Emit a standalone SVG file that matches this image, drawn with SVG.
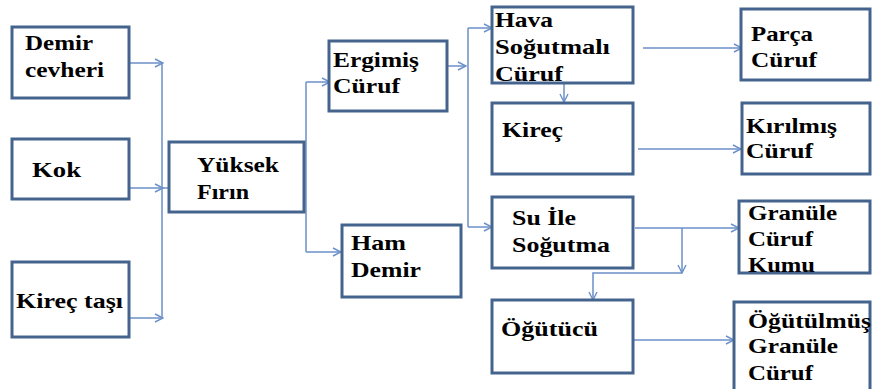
<svg xmlns="http://www.w3.org/2000/svg" width="872" height="389" viewBox="0 0 872 389">
<defs>
<marker id="arr" markerWidth="10" markerHeight="10" refX="9" refY="5" orient="auto" markerUnits="userSpaceOnUse">
<path d="M1,1 L9,5 L1,9" fill="none" stroke="#6b90c8" stroke-width="1.4"/>
</marker>
</defs>
<style>
.box{fill:#ffffff;stroke:#44648e;stroke-width:3}
.t{font-family:'Liberation Serif','Times New Roman',serif;font-weight:bold;font-size:22px;fill:#000000}
.c{fill:none;stroke:#6b90c8;stroke-width:1.5}
</style>
<rect width="872" height="389" fill="#ffffff"/>
<g id="connectors">
<path class="c" d="M129,63 H163" marker-end="url(#arr)"/>
<path class="c" d="M129,188 H163" marker-end="url(#arr)"/>
<path class="c" d="M162,188 H187" marker-end="url(#arr)"/>
<path class="c" d="M129,318 H163" marker-end="url(#arr)"/>
<path class="c" d="M162,63 V318"/>
<path class="c" d="M306,82 V252"/>
<path class="c" d="M306,82 H330" marker-end="url(#arr)"/>
<path class="c" d="M306,252 H341" marker-end="url(#arr)"/>
<path class="c" d="M435,66 H466" marker-end="url(#arr)"/>
<path class="c" d="M468,28 V227"/>
<path class="c" d="M468,28 H492" marker-end="url(#arr)"/>
<path class="c" d="M468,227 H492" marker-end="url(#arr)"/>
<path class="c" d="M564,78 V102" marker-end="url(#arr)"/>
<path class="c" d="M643,48 H742" marker-end="url(#arr)"/>
<path class="c" d="M638,149 H741" marker-end="url(#arr)"/>
<path class="c" d="M635,228 H739" marker-end="url(#arr)"/>
<path class="c" d="M682,228 V273" marker-end="url(#arr)"/>
<path class="c" d="M682,273 H593 V300" marker-end="url(#arr)"/>
<path class="c" d="M630,340 H734" marker-end="url(#arr)"/>
</g>
<g id="demir-cevheri">
<rect class="box" x="12" y="27" width="117" height="71"/>
<text class="t"><tspan x="25" y="50" textLength="68" lengthAdjust="spacingAndGlyphs">Demir</tspan><tspan x="25" y="77" textLength="79" lengthAdjust="spacingAndGlyphs">cevheri</tspan></text>
</g>
<g id="kok">
<rect class="box" x="12" y="139" width="117" height="60"/>
<text class="t" x="32" y="177" textLength="49" lengthAdjust="spacingAndGlyphs">Kok</text>
</g>
<g id="kirec-tasi">
<rect class="box" x="12" y="262" width="117" height="75"/>
<text class="t" x="16" y="308" textLength="107" lengthAdjust="spacingAndGlyphs">Kireç taşı</text>
</g>
<g id="yuksek-firin">
<rect class="box" x="169" y="142" width="135" height="70"/>
<text class="t"><tspan x="197" y="172" textLength="82" lengthAdjust="spacingAndGlyphs">Yüksek</tspan><tspan x="197" y="199" textLength="52" lengthAdjust="spacingAndGlyphs">Fırın</tspan></text>
</g>
<g id="ergimis-curuf">
<rect class="box" x="329" y="41" width="118" height="70"/>
<text class="t"><tspan x="333" y="67" textLength="86" lengthAdjust="spacingAndGlyphs">Ergimiş</tspan><tspan x="333" y="93" textLength="67" lengthAdjust="spacingAndGlyphs">Cüruf</tspan></text>
</g>
<g id="ham-demir">
<rect class="box" x="342" y="225" width="119" height="72"/>
<text class="t"><tspan x="351" y="250" textLength="55" lengthAdjust="spacingAndGlyphs">Ham</tspan><tspan x="351" y="277" textLength="70" lengthAdjust="spacingAndGlyphs">Demir</tspan></text>
</g>
<g id="hava-sogutmali-curuf">
<rect class="box" x="492" y="7" width="141" height="76"/>
<text class="t"><tspan x="495" y="27" textLength="58" lengthAdjust="spacingAndGlyphs">Hava</tspan><tspan x="495" y="54" textLength="115" lengthAdjust="spacingAndGlyphs">Soğutmalı</tspan><tspan x="495" y="81" textLength="68" lengthAdjust="spacingAndGlyphs">Cüruf</tspan></text>
</g>
<g id="kirec">
<rect class="box" x="492" y="103" width="141" height="71"/>
<text class="t" x="502" y="137" textLength="61" lengthAdjust="spacingAndGlyphs">Kireç</text>
</g>
<g id="su-ile-sogutma">
<rect class="box" x="492" y="197" width="141" height="71"/>
<text class="t"><tspan x="512" y="225" textLength="64" lengthAdjust="spacingAndGlyphs">Su İle</tspan><tspan x="512" y="252" textLength="98" lengthAdjust="spacingAndGlyphs">Soğutma</tspan></text>
</g>
<g id="ogutucu">
<rect class="box" x="492" y="300" width="141" height="73"/>
<text class="t" x="501" y="336" textLength="97" lengthAdjust="spacingAndGlyphs">Öğütücü</text>
</g>
<g id="parca-curuf">
<rect class="box" x="741" y="9" width="129" height="71"/>
<text class="t"><tspan x="751" y="41" textLength="62" lengthAdjust="spacingAndGlyphs">Parça</tspan><tspan x="751" y="67" textLength="66" lengthAdjust="spacingAndGlyphs">Cüruf</tspan></text>
</g>
<g id="kirilmis-curuf">
<rect class="box" x="742" y="103" width="128" height="71"/>
<text class="t"><tspan x="746" y="133" textLength="91" lengthAdjust="spacingAndGlyphs">Kırılmış</tspan><tspan x="746" y="158" textLength="67" lengthAdjust="spacingAndGlyphs">Cüruf</tspan></text>
</g>
<g id="granule-curuf-kumu">
<rect class="box" x="739" y="201" width="131" height="72"/>
<text class="t"><tspan x="748" y="220" textLength="89" lengthAdjust="spacingAndGlyphs">Granüle</tspan><tspan x="748" y="246" textLength="65" lengthAdjust="spacingAndGlyphs">Cüruf</tspan><tspan x="748" y="272" textLength="67" lengthAdjust="spacingAndGlyphs">Kumu</tspan></text>
</g>
<g id="ogutulmus-granule-curuf">
<rect class="box" x="734" y="302" width="136" height="100"/>
<text class="t"><tspan x="748" y="328" textLength="123" lengthAdjust="spacingAndGlyphs">Öğütülmüş</tspan><tspan x="748" y="353" textLength="90" lengthAdjust="spacingAndGlyphs">Granüle</tspan><tspan x="748" y="380" textLength="65" lengthAdjust="spacingAndGlyphs">Cüruf</tspan></text>
</g>
</svg>
